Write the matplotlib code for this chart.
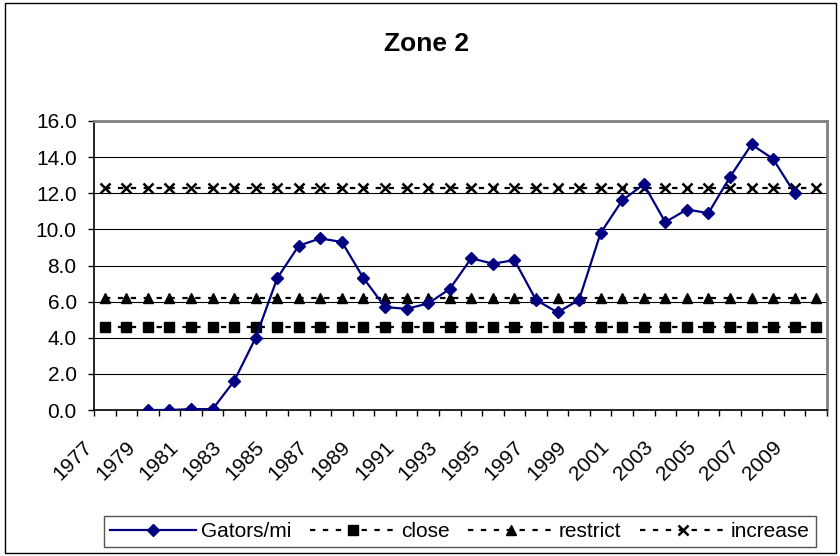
"""Zone 2 gator density vs. management thresholds (Excel-style line chart)."""
import matplotlib
matplotlib.use("Agg")
import matplotlib.pyplot as plt
import matplotlib.patches as mpatches
import matplotlib.transforms as mtransforms
import numpy as np

YEARS = [str(y) for y in range(1977, 2011)]

# Gators per mile (None = no survey that year)
GATORS_PER_MI = [None, None, 0.0, 0.0, 0.05, 0.05, 1.6, 4.0, 7.3, 9.1,
                 9.5, 9.3, 7.3, 5.7, 5.6, 5.9, 6.7, 8.4, 8.1, 8.3,
                 6.1, 5.4, 6.1, 9.8, 11.6, 12.5, 10.4, 11.1, 10.9, 12.9,
                 14.7, 13.9, 12.0, None]

CLOSE = [4.6, 4.6, 4.6, 4.6, 4.6, 4.6, 4.6, 4.6, 4.6, 4.6, 4.6, 4.6,
         4.6, 4.6, 4.6, 4.6, 4.6, 4.6, 4.6, 4.6, 4.6, 4.6, 4.6, 4.6,
         4.6, 4.6, 4.6, 4.6, 4.6, 4.6, 4.6, 4.6, 4.6, 4.6]
RESTRICT = [6.2, 6.2, 6.2, 6.2, 6.2, 6.2, 6.2, 6.2, 6.2, 6.2, 6.2, 6.2,
            6.2, 6.2, 6.2, 6.2, 6.2, 6.2, 6.2, 6.2, 6.2, 6.2, 6.2, 6.2,
            6.2, 6.2, 6.2, 6.2, 6.2, 6.2, 6.2, 6.2, 6.2, 6.2]
INCREASE = [12.3, 12.3, 12.3, 12.3, 12.3, 12.3, 12.3, 12.3, 12.3, 12.3,
            12.3, 12.3, 12.3, 12.3, 12.3, 12.3, 12.3, 12.3, 12.3, 12.3,
            12.3, 12.3, 12.3, 12.3, 12.3, 12.3, 12.3, 12.3, 12.3, 12.3,
            12.3, 12.3, 12.3, 12.3]

Y_TICKS = [0, 2, 4, 6, 8, 10, 12, 14, 16]

NAVY = "#000080"
FONT = "Liberation Sans"
W, H = 840, 556
DASH = (2.4, 3.4)

plt.rcParams["font.family"] = [FONT, "DejaVu Sans"]

fig = plt.figure(figsize=(W / 100, H / 100), dpi=100)
ax = fig.add_axes([94 / W, 1 - 410 / H, (827 - 94) / W, (410 - 121) / H])

x = np.arange(len(YEARS))
gators = np.array([np.nan if v is None else v for v in GATORS_PER_MI])

ax.plot(x, gators, color=NAVY, lw=1.6, marker="D", ms=6.4, mfc=NAVY,
        mec=NAVY, label="Gators/mi", zorder=5)
ax.plot(x, CLOSE, color="black", lw=1.6, dashes=DASH, marker="s", ms=6.5,
        label="close", zorder=4)
ax.plot(x, RESTRICT, color="black", lw=1.6, dashes=DASH, marker="^", ms=7,
        label="restrict", zorder=4)
ax.plot(x, INCREASE, color="black", lw=1.6, dashes=DASH, marker="x", ms=7,
        mew=1.8, label="increase", zorder=4)

ax.set_xlim(-0.5, len(YEARS) - 0.5)
ax.set_ylim(0, 16)

# horizontal gridlines only
ax.set_yticks(Y_TICKS)
ax.set_yticklabels([f"{v:.1f}" for v in Y_TICKS])
ax.yaxis.grid(True, color="black", lw=0.8)
ax.set_axisbelow(True)
ax.tick_params(axis="y", direction="out", length=4.5, width=1,
               labelsize=15, pad=8)

# tick marks between categories, labels every other year
ax.set_xticks(np.arange(-0.5, len(YEARS), 1.0), minor=True)
ax.set_xticks(x)
ax.set_xticklabels([y if i % 2 == 0 else "" for i, y in enumerate(YEARS)],
                   rotation=45, ha="right", va="top")
ax.tick_params(axis="x", which="major", length=0, labelsize=15, pad=20)
ax.tick_params(axis="x", which="minor", direction="out", length=4, width=1)
shift = mtransforms.ScaledTranslation(-9 / 100, 0, fig.dpi_scale_trans)
for lbl in ax.get_xticklabels():
    lbl.set_transform(lbl.get_transform() + shift)

for side in ("left", "bottom"):
    ax.spines[side].set_color("black")
    ax.spines[side].set_linewidth(1.2)
for side in ("top", "right"):
    ax.spines[side].set_color("#808080")
    ax.spines[side].set_linewidth(2)

fig.text(427 / W, 1 - 44 / H, "Zone 2", ha="center", va="center",
         fontsize=19, fontweight="bold")

leg = fig.legend(loc="center", bbox_to_anchor=(460 / W, 1 - 531.5 / H),
                 ncol=4, fontsize=15, frameon=True, fancybox=False,
                 edgecolor="#555555", framealpha=1, handlelength=4.1,
                 handletextpad=0.25, columnspacing=0.9, borderpad=0.3,
                 numpoints=1)
leg.get_frame().set_linewidth(1)

# chart-area border
fig.patches.append(mpatches.Rectangle((5 / W, 3 / H), 831 / W, 550 / H,
                                      transform=fig.transFigure, fill=False,
                                      edgecolor="black", lw=1))

fig.savefig("out.png", dpi=100, facecolor="white")
